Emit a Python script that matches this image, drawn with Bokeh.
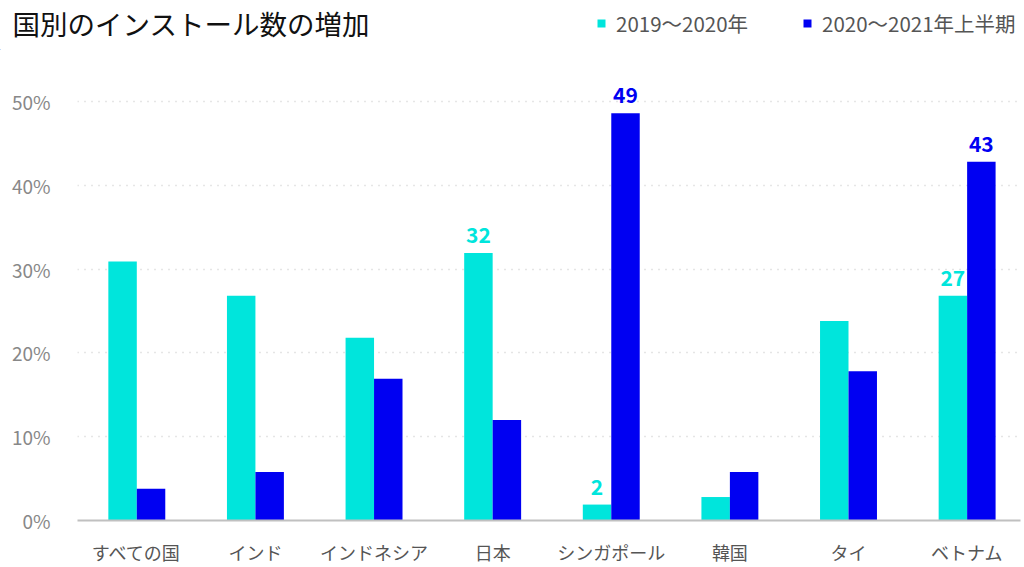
from bokeh.plotting import figure
from bokeh.layouts import column
from bokeh.models import (ColumnDataSource, Range1d, FixedTicker, Legend, LegendItem,
                          Label, LabelSet)
from bokeh.core.properties import value
from bokeh.embed import file_html
from bokeh.resources import INLINE

# ---- data ----
countries = ["すべての国", "インド", "インドネシア", "日本", "シンガポール", "韓国", "タイ", "ベトナム"]
series_2019_2020 = [30.9, 26.8, 21.8, 31.9, 1.9, 2.8, 23.8, 26.8]
series_2020_2021h1 = [3.8, 5.8, 16.9, 12.0, 48.6, 5.8, 17.8, 42.8]
labels_2019_2020 = ["", "", "", "32", "2", "", "", "27"]
labels_2020_2021h1 = ["", "", "", "", "49", "", "", "43"]
series_names = ["2019～2020年", "2020～2021年上半期"]
y_ticks = [0, 10, 20, 30, 40, 50]
title_text = "国別のインストール数の増加"

CYAN = "#00E5DC"
BLUE = "#0000F2"
JP = "Noto Sans CJK JP"
W = 1024
HEAD_H = 50

# ---------------- header (title + legend) ----------------
head = figure(width=W, height=HEAD_H, output_backend="svg", toolbar_location=None,
              x_range=Range1d(0, W), y_range=Range1d(0, HEAD_H),
              x_axis_location=None, y_axis_location=None,
              min_border=0, min_border_left=0, min_border_right=0,
              min_border_top=0, min_border_bottom=0)
head.frame_align = False
head.outline_line_color = None
head.xgrid.visible = False
head.ygrid.visible = False
head.border_fill_color = "white"

head.add_layout(Label(x=12, y=HEAD_H - 22, text=title_text, text_font=JP,
                      text_font_size="27.5px", text_font_style="normal", text_color="#111111",
                      text_baseline="middle", text_align="left"))

# legend keys (renderers placed outside the visible range; only their legend swatches show)
d1 = head.vbar(x=[-1000], top=[1], width=1, fill_color=CYAN, line_color=None)
d2 = head.vbar(x=[-1000], top=[1], width=1, fill_color=BLUE, line_color=None)
legend = Legend(items=[LegendItem(label=series_names[0], renderers=[d1]),
                       LegendItem(label=series_names[1], renderers=[d2])],
                orientation="horizontal", location=(596, 12),
                glyph_width=10, glyph_height=10, label_standoff=10, spacing=54,
                padding=0, margin=0, border_line_color=None, background_fill_alpha=0,
                label_text_font=JP, label_text_font_size="20.5px", label_text_color="#555555")
head.add_layout(legend, "center")

# ---------------- main chart ----------------
idx = list(range(len(countries)))
bw = 0.24
src1 = ColumnDataSource(dict(x=[i - bw / 2 for i in idx], top=series_2019_2020, lab=labels_2019_2020))
src2 = ColumnDataSource(dict(x=[i + bw / 2 for i in idx], top=series_2020_2021h1, lab=labels_2020_2021h1))

p = figure(width=W, height=567 - HEAD_H, output_backend="svg", toolbar_location=None,
           x_range=Range1d(-0.5, 7.45), y_range=Range1d(0, 55),
           min_border_left=77, min_border_right=4, min_border_top=59 - HEAD_H,
           min_border_bottom=40)
p.frame_align = False
p.outline_line_color = None
p.background_fill_color = "white"
p.border_fill_color = "white"

p.vbar(x="x", top="top", width=bw, source=src1, fill_color=CYAN, line_color=None)
p.vbar(x="x", top="top", width=bw, source=src2, fill_color=BLUE, line_color=None)

for src, col in ((src1, CYAN), (src2, BLUE)):
    p.add_layout(LabelSet(x="x", y="top", text="lab", source=src, text_align="center",
                          text_baseline="bottom", y_offset=10, text_color=col,
                          text_font=value(JP), text_font_size="21px", text_font_style="bold"))

p.xaxis.ticker = FixedTicker(ticks=idx)
p.xaxis.major_label_overrides = {i: c for i, c in enumerate(countries)}
p.xaxis.major_tick_line_color = None
p.xaxis.major_tick_out = 0
p.xaxis.major_tick_in = 0
p.xaxis.minor_tick_line_color = None
p.xaxis.axis_line_color = "#c0c0c0"
p.xaxis.axis_line_width = 2
p.xaxis.major_label_text_font = JP
p.xaxis.major_label_text_font_size = "18px"
p.xaxis.major_label_text_color = "#555555"
p.xaxis.major_label_standoff = 18

p.yaxis.ticker = FixedTicker(ticks=y_ticks)
p.yaxis.major_label_overrides = {t: f"{t}%" for t in y_ticks}
p.yaxis.axis_line_color = None
p.yaxis.major_tick_line_color = None
p.yaxis.major_tick_out = 0
p.yaxis.major_tick_in = 0
p.yaxis.minor_tick_line_color = None
p.yaxis.major_label_text_font = JP
p.yaxis.major_label_text_font_size = "19px"
p.yaxis.major_label_text_color = "#888888"
p.yaxis.major_label_standoff = 27

p.xgrid.grid_line_color = None
p.ygrid.grid_line_color = "#cccccc"
p.ygrid.grid_line_dash = "1 6"
p.ygrid.grid_line_width = 1.5

layout = column(head, p, spacing=0)
open("out.html", "w").write(file_html(layout, INLINE))
